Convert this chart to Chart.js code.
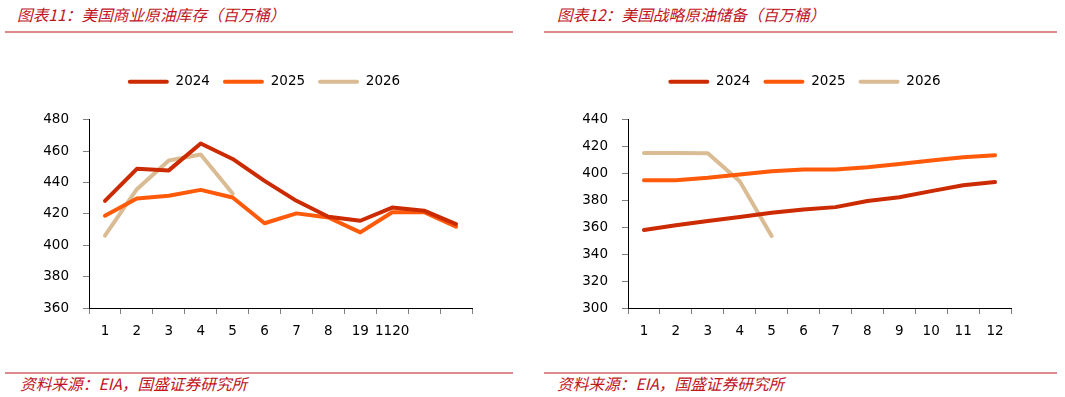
<!DOCTYPE html>
<html>
<head>
<meta charset="utf-8">
<script src="https://cdn.jsdelivr.net/npm/chart.js@4/dist/chart.umd.min.js"></script>
<style>
  html, body { margin: 0; padding: 0; background: #fff; }
  body { width: 1065px; height: 397px; position: relative; overflow: hidden; font-family: "Noto Sans CJK SC", sans-serif; }
  .title, .source { position: absolute; color: #c0141e; font-style: italic; font-size: 15.7px; line-height: 18px; white-space: nowrap; font-family: "Noto Sans CJK SC", sans-serif; }
  .rule { position: absolute; height: 2px; background: #dd8a8c; }
  canvas { position: absolute; }
</style>
</head>
<body>
<div class="title" style="left:17px; top:6px;">图表11：美国商业原油库存（百万桶）</div>
<div class="title" style="left:557px; top:6px;">图表12：美国战略原油储备（百万桶）</div>
<div class="rule" style="left:5px; width:508px; top:31px;"></div>
<div class="rule" style="left:544px; width:513px; top:31px;"></div>
<div class="rule" style="left:5px; width:508px; top:372px;"></div>
<div class="rule" style="left:544px; width:513px; top:372px;"></div>
<div class="source" style="left:20px; top:375px;">资料来源：EIA，国盛证券研究所</div>
<div class="source" style="left:557px; top:375px;">资料来源：EIA，国盛证券研究所</div>

<canvas id="c1" width="528" height="300" style="left:0px; top:62px;"></canvas>
<canvas id="c2" width="525" height="300" style="left:542px; top:62px;"></canvas>

<script>
// ---- Chart 1: US commercial crude inventories (million barrels) ----
const commLabels = ["1", "2", "3", "4", "5", "6", "7", "8", "19", "1120", "", ""];
const comm2024 = [428.3, 448.7, 447.7, 464.8, 455.0, 441.0, 428.3, 418.2, 415.6, 424.0, 422.0, 413.5];
const comm2025 = [418.8, 429.8, 431.5, 435.3, 430.4, 414.0, 420.3, 417.7, 408.2, 421.0, 421.0, 411.8];
const comm2026 = [406.1, 435.7, 454.0, 457.8, 432.9];
const commYTicks = [360, 380, 400, 420, 440, 460, 480];

// ---- Chart 2: US strategic petroleum reserve (million barrels) ----
const sprLabels = ["1", "2", "3", "4", "5", "6", "7", "8", "9", "10", "11", "12"];
const spr2024 = [358.0, 361.5, 364.7, 367.6, 370.8, 373.3, 375.0, 379.5, 382.4, 386.9, 391.3, 393.6];
const spr2025 = [395.0, 395.0, 396.8, 399.3, 401.7, 403.0, 403.0, 404.7, 407.1, 409.6, 412.0, 413.5];
const spr2026 = [415.3, 415.3, 415.0, 394.3, 353.6];
const sprYTicks = [300, 320, 340, 360, 380, 400, 420, 440];

const seriesNames = ["2024", "2025", "2026"];
const seriesColors = ["#cc2a00", "#ff5a0a", "#d9bc94"];

Chart.defaults.font.family = "'DejaVu Sans', Verdana, sans-serif";
Chart.defaults.color = "#000";

function ds(name, data, color) {
  return {
    label: name, data: data, borderColor: color, backgroundColor: color,
    borderWidth: 4, pointRadius: 0, pointHoverRadius: 0, tension: 0,
    borderCapStyle: 'round', borderJoinStyle: 'round', fill: false
  };
}

function makeChart(id, labels, s1, s2, s3, yTicks, yWidth, rightWidth) {
  const yMin = yTicks[0], yMax = yTicks[yTicks.length - 1];
  return new Chart(document.getElementById(id), {
    type: 'line',
    data: {
      labels: labels,
      datasets: [ds(seriesNames[0], s1, seriesColors[0]), ds(seriesNames[1], s2, seriesColors[1]), ds(seriesNames[2], s3, seriesColors[2])]
    },
    options: {
      responsive: false, animation: false, devicePixelRatio: 1,
      layout: { padding: 0 },
      plugins: {
        tooltip: { enabled: false },
        legend: {
          display: true, position: 'top', weight: 3000,
          labels: {
            boxWidth: 41, boxHeight: 4, padding: 13, useBorderRadius: true, borderRadius: 2,
            font: { size: 13.5 }, color: '#000',
            generateLabels: (chart) => Chart.defaults.plugins.legend.labels.generateLabels(chart).map(it => {
              it.fillStyle = chart.data.datasets[it.datasetIndex].borderColor;
              it.strokeStyle = 'rgba(0,0,0,0)';
              it.lineWidth = 0;
              return it;
            })
          }
        },
        title: { display: true, text: '', font: { size: 1 }, padding: { top: 10, bottom: 10 }, weight: 2000 }
      },
      scales: {
        x: {
          type: 'category', offset: true,
          grid: { display: true, offset: true, drawOnChartArea: false, drawTicks: true, tickLength: 6, color: '#808080' },
          border: { display: true, color: '#000', width: 1 },
          ticks: { autoSkip: false, maxRotation: 0, minRotation: 0, padding: 9, font: { size: 13.5 }, color: '#000' },
          afterFit: (s) => { s.height = 54; }
        },
        y: {
          min: yMin, max: yMax,
          afterBuildTicks: (s) => { s.ticks = yTicks.map(v => ({ value: v })); },
          grid: { display: true, drawOnChartArea: false, drawTicks: true, tickLength: 6, color: '#808080' },
          border: { display: true, color: '#000', width: 1 },
          ticks: { padding: 14, font: { size: 13.5 }, color: '#000' },
          afterFit: (s) => { s.width = yWidth; }
        },
        yRight: {
          position: 'right', min: yMin, max: yMax, display: true,
          grid: { display: false, drawOnChartArea: false, drawTicks: false },
          border: { display: false },
          ticks: { display: false },
          afterFit: (s) => { s.width = rightWidth; }
        }
      }
    }
  });
}

makeChart('c1', commLabels, comm2024, comm2025, comm2026, commYTicks, 89, 56);
makeChart('c2', sprLabels, spr2024, spr2025, spr2026, sprYTicks, 86, 56);
</script>
</body>
</html>
